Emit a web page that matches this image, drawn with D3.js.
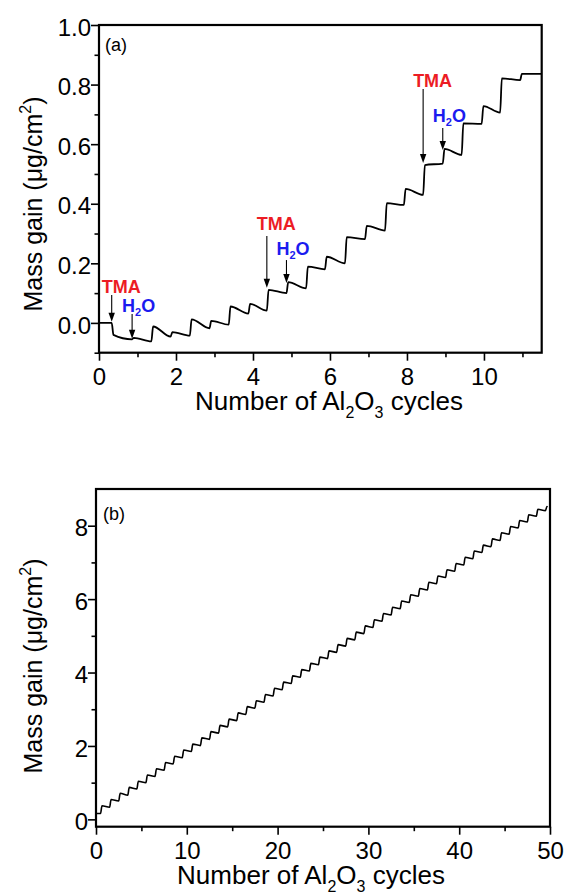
<!DOCTYPE html>
<html>
<head>
<meta charset="utf-8">
<script src="https://cdn.jsdelivr.net/npm/d3@7"></script>
<style>
  html, body { margin: 0; padding: 0; background: #fff; }
  svg { display: block; }
  text { font-family: "Liberation Sans", Arial, sans-serif; }
</style>
</head>
<body>
<svg id="chart" width="566" height="896"></svg>
<script>
// ---------- Panel (a): first cycles of Al2O3 ALD ----------
const aStartValue = 0.0;
const aEndX = 11.5;
// pulse times (TMA, H2O alternating), in cycles
const aPulseX = [0.33, 0.86, 1.36, 1.86, 2.36, 2.87, 3.37, 3.88, 4.36, 4.87, 5.38,
                 5.87, 6.39, 6.91, 7.43, 7.92, 8.42, 8.93, 9.42, 9.94, 10.42, 10.94];
// mass right after each pulse
const aPeak = [-0.040, -0.050, -0.012, -0.031, 0.012, 0.007, 0.055, 0.064, 0.111, 0.137, 0.189,
               0.222, 0.288, 0.326, 0.402, 0.450, 0.530, 0.584, 0.670, 0.728, 0.821, 0.836];
// mass reached just before the following pulse
const aSettle = [-0.055, -0.062, -0.046, -0.043, -0.018, -0.006, 0.031, 0.041, 0.100, 0.116, 0.180,
                 0.200, 0.281, 0.310, 0.396, 0.430, 0.535, 0.564, 0.668, 0.706, 0.815, 0.836];
const aXTicks = [0, 2, 4, 6, 8, 10];
const aXMinor = [1, 3, 5, 7, 9, 11];
const aYTicks = [0.0, 0.2, 0.4, 0.6, 0.8, 1.0];
const aYMinor = [-0.1, 0.1, 0.3, 0.5, 0.7, 0.9];

// precursor annotations: label, pulse x, label baseline, arrow tail and tip values
const annLabels = ["TMA", "H2O", "TMA", "H2O", "TMA", "H2O"];
const annX      = [0.33, 0.86, 4.36, 4.87, 8.42, 8.93];
const annText   = [0.101, 0.037, 0.312, 0.228, 0.792, 0.674];
const annTail   = [0.094, 0.030, 0.292, 0.211, 0.785, 0.654];
const annTip    = [0.004, -0.053, 0.118, 0.134, 0.537, 0.580];

// ---------- Panel (b): 50 cycles ----------
const bStartValue = 0.16;
const bEndX = 49.7;
const bCycle = d3.range(50);
const bPeak = [0.37, 0.54, 0.71, 0.87, 1.04, 1.21, 1.38, 1.55, 1.72, 1.89,
               2.05, 2.22, 2.39, 2.56, 2.73, 2.90, 3.07, 3.23, 3.40, 3.57,
               3.74, 3.91, 4.08, 4.25, 4.42, 4.59, 4.76, 4.93, 5.10, 5.27,
               5.44, 5.61, 5.78, 5.95, 6.12, 6.29, 6.46, 6.63, 6.80, 6.97,
               7.14, 7.31, 7.47, 7.64, 7.81, 7.98, 8.14, 8.30, 8.45, 8.52];
const bSettle = [0.33, 0.50, 0.66, 0.83, 1.00, 1.17, 1.34, 1.51, 1.68, 1.85,
                 2.01, 2.18, 2.35, 2.52, 2.69, 2.86, 3.03, 3.19, 3.36, 3.53,
                 3.70, 3.87, 4.04, 4.21, 4.38, 4.55, 4.72, 4.89, 5.06, 5.23,
                 5.40, 5.57, 5.74, 5.91, 6.08, 6.25, 6.42, 6.59, 6.76, 6.93,
                 7.10, 7.27, 7.43, 7.60, 7.77, 7.94, 8.10, 8.26, 8.41, 8.50];
const bXTicks = [0, 10, 20, 30, 40, 50];
const bXMinor = [5, 15, 25, 35, 45];
const bYTicks = [0, 2, 4, 6, 8];
const bYMinor = [1, 3, 5, 7];

const RED = "#ec1c24";
const BLUE = "#1b1bef";

const svg = d3.select("#chart");

// Build the trace: rise to the peak just after each pulse, then relax to the settle value
function tracePoints(startVal, pulses, peaks, settles, endX, rise) {
  const pts = [[0, startVal]];
  let prev = startVal;
  pulses.forEach((t, i) => {
    const next = i + 1 < pulses.length ? pulses[i + 1] : endX;
    pts.push([t, prev]);
    pts.push([t + rise, peaks[i]]);
    pts.push([next, settles[i]]);
    prev = settles[i];
  });
  return pts;
}

function drawFrame(g, x, y, opts) {
  const [x0, x1] = x.range();
  const [y0, y1] = y.range();
  const major = 8, minor = 4.5;

  const ax = g.append("g").attr("transform", `translate(0,${y0})`)
    .call(d3.axisBottom(x).tickValues(opts.xTicks).tickSize(major)
      .tickFormat(d3.format("d")));
  ax.select(".domain").remove();
  ax.selectAll(".tick line").attr("stroke", "#000").attr("stroke-width", 1.6);
  ax.selectAll(".tick text").attr("font-size", 24).attr("fill", "#000")
    .attr("dy", null).attr("y", 32);

  const axm = g.append("g").attr("transform", `translate(0,${y0})`)
    .call(d3.axisBottom(x).tickValues(opts.xMinor).tickSize(minor).tickFormat(""));
  axm.select(".domain").remove();
  axm.selectAll(".tick line").attr("stroke", "#000").attr("stroke-width", 1.6);

  const ay = g.append("g").attr("transform", `translate(${x0},0)`)
    .call(d3.axisLeft(y).tickValues(opts.yTicks).tickSize(major).tickPadding(0)
      .tickFormat(opts.yFormat));
  ay.select(".domain").remove();
  ay.selectAll(".tick line").attr("stroke", "#000").attr("stroke-width", 1.6);
  ay.selectAll(".tick text").attr("font-size", 24).attr("fill", "#000").attr("dy", "0.42em");

  const aym = g.append("g").attr("transform", `translate(${x0},0)`)
    .call(d3.axisLeft(y).tickValues(opts.yMinor).tickSize(minor).tickFormat(""));
  aym.select(".domain").remove();
  aym.selectAll(".tick line").attr("stroke", "#000").attr("stroke-width", 1.6);

  g.append("rect")
    .attr("x", x0).attr("y", y1)
    .attr("width", x1 - x0).attr("height", y0 - y1)
    .attr("fill", "none").attr("stroke", "#000").attr("stroke-width", 2.2);
}

function axisTitles(g, xc, xBase, yc) {
  const xt = g.append("text").attr("x", xc).attr("y", xBase)
    .attr("text-anchor", "middle").attr("font-size", 26).attr("fill", "#000");
  xt.append("tspan").text("Number of Al");
  xt.append("tspan").text("2").attr("font-size", 16).attr("dy", 8);
  xt.append("tspan").text("O").attr("dy", -8);
  xt.append("tspan").text("3").attr("font-size", 16).attr("dy", 8);
  xt.append("tspan").text(" cycles").attr("dy", -8);

  const yt = g.append("text")
    .attr("transform", `translate(42,${yc}) rotate(-90)`)
    .attr("text-anchor", "middle").attr("font-size", 25).attr("fill", "#000");
  yt.append("tspan").text("Mass gain (μg/cm");
  yt.append("tspan").text("2").attr("font-size", 16).attr("dy", -11);
  yt.append("tspan").text(")").attr("dy", 11);
}

// ---------- Panel (a) ----------
{
  const g = svg.append("g");
  const x = d3.scaleLinear().domain([0, 11.5]).range([99, 541.7]);
  const y = d3.scaleLinear().domain([-0.1, 1.0]).range([352.7, 25]);

  drawFrame(g, x, y, {
    xTicks: aXTicks, xMinor: aXMinor, yTicks: aYTicks, yMinor: aYMinor,
    yFormat: d3.format(".1f")
  });

  g.append("clipPath").attr("id", "clipA").append("rect")
    .attr("x", 99).attr("y", 25).attr("width", 442.7).attr("height", 327.7);

  const line = d3.line().x(d => x(d[0])).y(d => y(d[1])).curve(d3.curveMonotoneX);
  g.append("path")
    .attr("d", line(tracePoints(aStartValue, aPulseX, aPeak, aSettle, aEndX, 0.045)))
    .attr("clip-path", "url(#clipA)")
    .attr("fill", "none").attr("stroke", "#000").attr("stroke-width", 1.8)
    .attr("stroke-linejoin", "round");

  // arrows and precursor labels
  annLabels.forEach((lab, i) => {
    const px = x(annX[i]);
    const tail = y(annTail[i]);
    const tip = y(annTip[i]);
    g.append("line").attr("x1", px).attr("x2", px)
      .attr("y1", tail).attr("y2", tip - 7)
      .attr("stroke", "#000").attr("stroke-width", 1.1);
    g.append("path")
      .attr("d", `M${px - 3.2},${tip - 9} L${px + 3.2},${tip - 9} L${px},${tip} Z`)
      .attr("fill", "#000");

    const t = g.append("text").attr("x", px - 10).attr("y", y(annText[i]))
      .attr("font-size", 18).attr("font-weight", "bold")
      .attr("fill", lab === "TMA" ? RED : BLUE);
    if (lab === "TMA") {
      t.text("TMA");
    } else {
      t.append("tspan").text("H");
      t.append("tspan").text("2").attr("font-size", 11).attr("dy", 4);
      t.append("tspan").text("O").attr("dy", -4);
    }
  });

  g.append("text").attr("x", 105).attr("y", 51)
    .attr("font-size", 18).attr("fill", "#000").text("(a)");

  axisTitles(g, 329, 410, 204);
}

// ---------- Panel (b) ----------
{
  const g = svg.append("g");
  const x = d3.scaleLinear().domain([0, 50]).range([96, 550]);
  const y = d3.scaleLinear().domain([-0.2, 9]).range([826.7, 489]);

  drawFrame(g, x, y, {
    xTicks: bXTicks, xMinor: bXMinor, yTicks: bYTicks, yMinor: bYMinor,
    yFormat: d3.format("d")
  });

  const bPulseX = bCycle.map(n => n + 0.5);
  const line = d3.line().x(d => x(d[0])).y(d => y(d[1])).curve(d3.curveMonotoneX);
  g.append("path")
    .attr("d", line(tracePoints(bStartValue, bPulseX, bPeak, bSettle, bEndX, 0.16)))
    .attr("fill", "none").attr("stroke", "#000").attr("stroke-width", 1.6)
    .attr("stroke-linejoin", "round");

  g.append("text").attr("x", 103).attr("y", 520)
    .attr("font-size", 18).attr("fill", "#000").text("(b)");

  axisTitles(g, 311, 884, 666);
}
</script>
</body>
</html>
